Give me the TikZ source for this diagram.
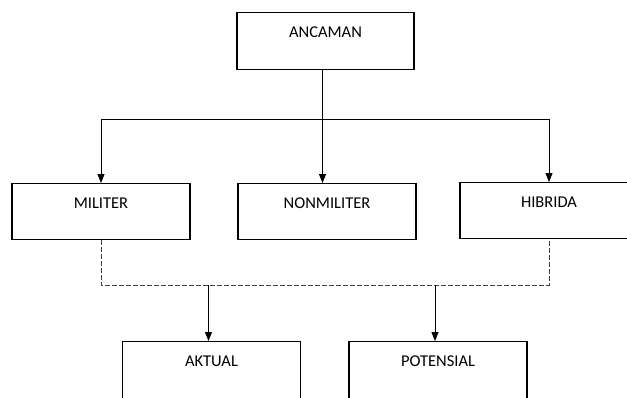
\documentclass[tikz,border=0pt]{standalone}
\usepackage{fontspec}
\setmainfont{Carlito}
\usetikzlibrary{arrows.meta}
\tikzset{
  box/.style={draw=black,line width=1.2pt,minimum width=178pt,inner xsep=0pt,inner ysep=0pt,
    text height=25pt,text depth=31pt,anchor=north,font=\fontsize{16.5}{19}\selectfont},
  arr/.style={draw=black,line width=0.9pt,-{Triangle[length=9pt,width=7pt]}},
  dashline/.style={draw=black!75,line width=0.8pt,dash pattern=on 4.5pt off 2.5pt}
}
\begin{document}
\begin{tikzpicture}[x=1pt,y=-1pt]
\useasboundingbox (0,0) rectangle (627,397);
% level 0
\node[box,minimum width=177pt,text height=25pt,text depth=32pt] (anc) at (325.5,12) {ANCAMAN};
% level 1
\node[box] (mil) at (101,183) {MILITER};
\node[box] (nonmil) at (327,183) {NONMILITER};
\node[box] (hib) at (549,182) {HIBRIDA};
% level 2
\node[box,text depth=33pt] (akt) at (211.5,341) {AKTUAL};
\node[box,text depth=33pt] (pot) at (438,341) {POTENSIAL};
% connectors
\coordinate (hub) at ([xshift=-3pt]anc.south |- 0,119);
\draw[arr] ([xshift=-3pt]anc.south) -- ([xshift=-3pt]anc.south |- nonmil.north);
\draw[arr] (hub) -| (mil.north);
\draw[arr] (hub) -| (hib.north);
\coordinate (bus) at (320,285);
\draw[dashline] (mil.south) |- (bus) -| (hib.south);
\draw[arr] ([xshift=-3pt]akt.north |- bus) -- ([xshift=-3pt]akt.north);
\draw[arr] ([xshift=-3pt]pot.north |- bus) -- ([xshift=-3pt]pot.north);
\end{tikzpicture}
\end{document}
